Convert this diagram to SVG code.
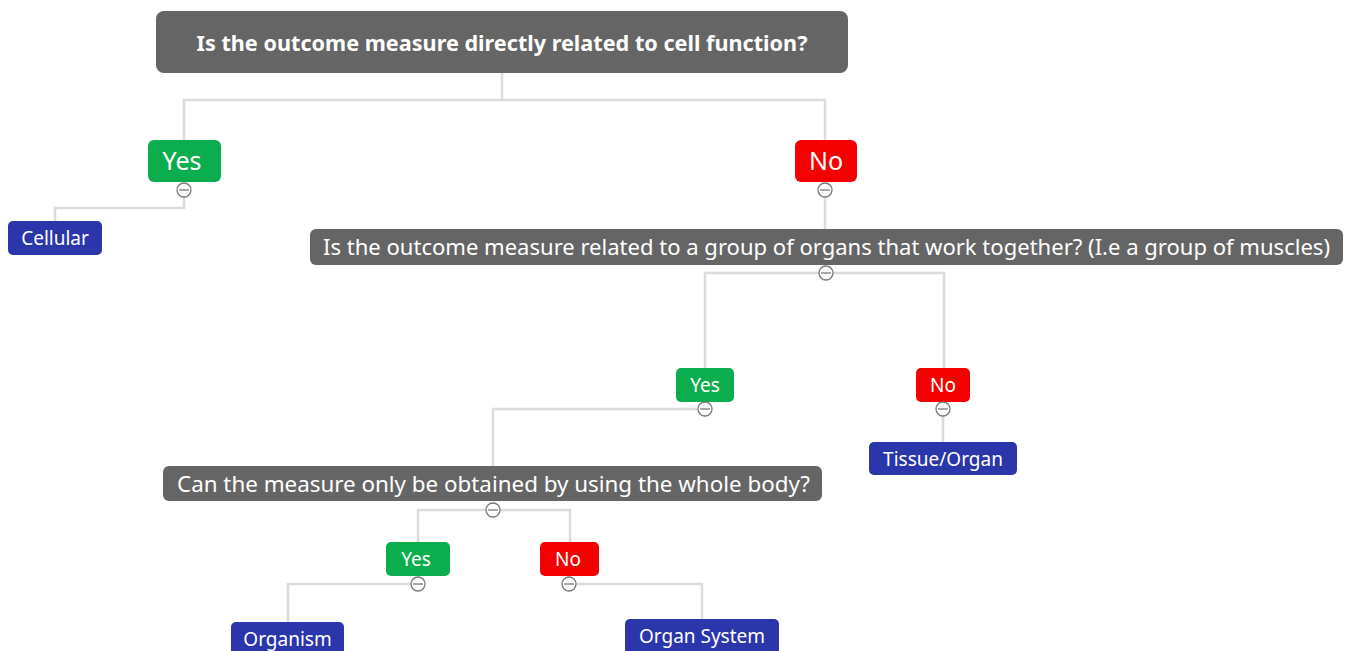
<svg xmlns="http://www.w3.org/2000/svg" width="1347" height="651" viewBox="0 0 1347 651">
<style>
.q{fill:#656565}
.y{fill:#0cad4f}
.n{fill:#f50000}
.b{fill:#2b36ab}
text{font-family:"Noto Sans","Open Sans","Liberation Sans",sans-serif;fill:#fff}
.s{font-size:19px;text-anchor:middle}
.c line,.c polyline{stroke:#dcdcdc;stroke-width:2.6;fill:none}
.k circle{fill:#fff;stroke:#7a7a7a;stroke-width:1.3}
.k line{stroke:#7a7a7a;stroke-width:1.3}
</style>
<rect width="1347" height="651" fill="#fff"/>
<g id="connectors" class="c">
<polyline points="502,73 502,100"/>
<polyline points="184,140 184,100 825,100 825,140"/>
<polyline points="184,190 184,208 55,208 55,221"/>
<polyline points="825,190 825,229"/>
<polyline points="705,368 705,273 944,273 944,368"/>
<polyline points="705,409 493,409 493,466"/>
<polyline points="943,409 943,442"/>
<polyline points="418,542 418,510 570,510 570,542"/>
<polyline points="418,584 288,584 288,622"/>
<polyline points="569,584 702,584 702,619"/>
</g>
<g id="n1"><rect class="q" x="156" y="11" width="692" height="62" rx="8"/><text x="502" y="51" font-size="21" font-weight="bold" text-anchor="middle" textLength="611" lengthAdjust="spacingAndGlyphs">Is the outcome measure directly related to cell function?</text></g>
<g id="yes1"><rect class="y" x="148" y="140" width="73" height="42" rx="6"/><text x="182" y="170" font-size="25" text-anchor="middle">Yes</text></g>
<g id="no1"><rect class="n" x="795" y="140" width="62" height="42" rx="6"/><text x="826" y="170" font-size="25" text-anchor="middle">No</text></g>
<g id="cellular"><rect class="b" x="8" y="221" width="94" height="34" rx="5"/><text class="s" x="55" y="245">Cellular</text></g>
<g id="n2"><rect class="q" x="310" y="229" width="1033" height="36" rx="6"/><text x="323" y="255" font-size="21" textLength="1007" lengthAdjust="spacingAndGlyphs">Is the outcome measure related to a group of organs that work together? (I.e a group of muscles)</text></g>
<g id="yes2"><rect class="y" x="676" y="368" width="58" height="34" rx="5"/><text class="s" x="705" y="392">Yes</text></g>
<g id="no2"><rect class="n" x="916" y="368" width="54" height="34" rx="5"/><text class="s" x="943" y="392">No</text></g>
<g id="tissue"><rect class="b" x="869" y="442" width="148" height="33" rx="5"/><text class="s" x="943" y="466">Tissue/Organ</text></g>
<g id="n3"><rect class="q" x="163" y="466" width="659" height="35" rx="6"/><text x="177" y="492" font-size="21" textLength="633" lengthAdjust="spacingAndGlyphs">Can the measure only be obtained by using the whole body?</text></g>
<g id="yes3"><rect class="y" x="386" y="542" width="64" height="34" rx="5"/><text class="s" x="416" y="566">Yes</text></g>
<g id="no3"><rect class="n" x="540" y="542" width="59" height="34" rx="5"/><text class="s" x="568" y="566">No</text></g>
<g id="organism"><rect class="b" x="231" y="622" width="113" height="40" rx="5"/><text class="s" x="287.5" y="646">Organism</text></g>
<g id="organsystem"><rect class="b" x="625" y="619" width="154" height="40" rx="5"/><text class="s" x="702" y="643">Organ System</text></g>
<g id="toggles" class="k">
<circle cx="184" cy="190" r="7"/><line x1="179" y1="190" x2="189" y2="190"/>
<circle cx="825" cy="190" r="7"/><line x1="820" y1="190" x2="830" y2="190"/>
<circle cx="826" cy="273" r="7"/><line x1="821" y1="273" x2="831" y2="273"/>
<circle cx="705" cy="409" r="7"/><line x1="700" y1="409" x2="710" y2="409"/>
<circle cx="943" cy="409" r="7"/><line x1="938" y1="409" x2="948" y2="409"/>
<circle cx="493" cy="510" r="7"/><line x1="488" y1="510" x2="498" y2="510"/>
<circle cx="418" cy="584" r="7"/><line x1="413" y1="584" x2="423" y2="584"/>
<circle cx="569" cy="584" r="7"/><line x1="564" y1="584" x2="574" y2="584"/>
</g>
</svg>
